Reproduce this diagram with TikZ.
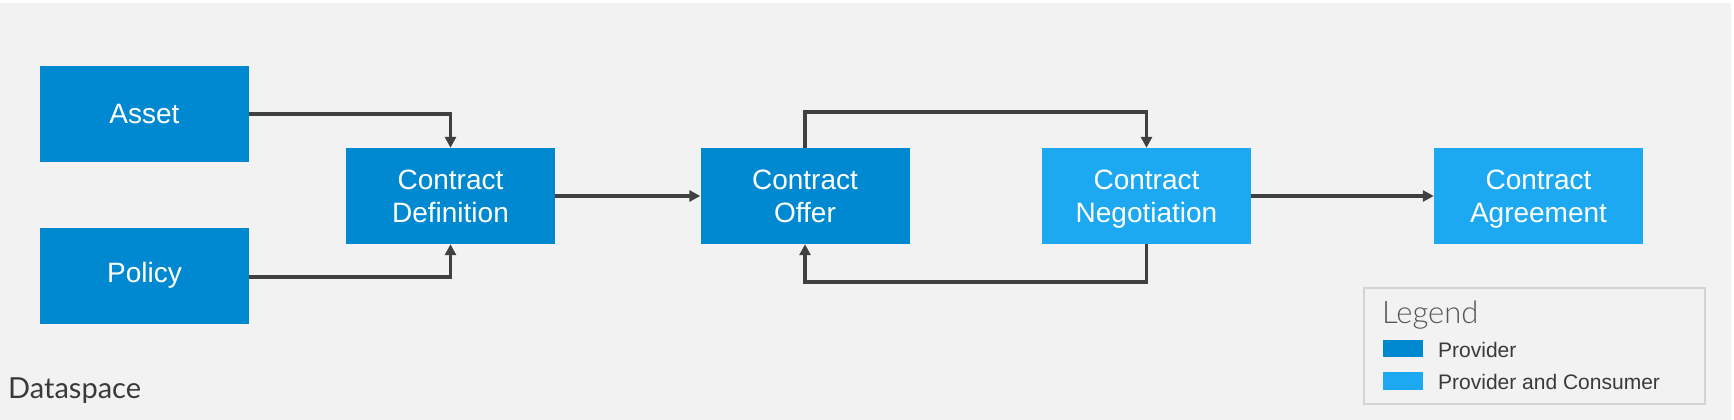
\documentclass[tikz,border=0pt]{standalone}
\usepackage{fontspec}
\setmainfont{Liberation Sans}
\newfontfamily\latofont{Lato}
\newfontfamily\latolight{Lato Light}
\usetikzlibrary{arrows.meta}
\newcommand\nodescend[1]{\raisebox{0pt}[\height][0pt]{#1}}
\definecolor{bgc}{HTML}{F2F2F2}
\definecolor{prov}{HTML}{0089D1}
\definecolor{provcons}{HTML}{1DA9F2}
\definecolor{arrc}{HTML}{404040}
\definecolor{txtc}{HTML}{3A3A3A}
\definecolor{legc}{HTML}{D4D4D4}
\tikzset{
  box/.style={fill=prov, minimum width=209pt, minimum height=96pt, inner sep=0pt,
    text=white, align=center, font=\fontsize{28}{33}\selectfont},
  boxlight/.style={box, fill=provcons},
  conn/.style={draw=arrc, line width=3.5pt, -{Triangle[length=11pt,width=11pt]}},
  legtxt/.style={anchor=base west, inner sep=0pt, text=txtc, font=\fontsize{21}{24}\selectfont},
}
\begin{document}
\begin{tikzpicture}[x=1pt,y=-1pt]
\useasboundingbox (0,0) rectangle (1734,420);
\fill[white] (0,0) rectangle (1734,420);
\fill[bgc] (0,3) rectangle (1731,420);

\node[box] (asset) at (144.5,114) {Asset};
\node[box] (policy) at (144.5,275.5) {Policy};
\node[box] (cdef) at (450.5,196) {Contract\\Definition};
\node[box] (offer) at (805,196) {Contract\\Offer};
\node[boxlight] (neg) at (1146.5,196) {Contract\\\nodescend{Negotiation}};
\node[boxlight] (agree) at (1538.5,196) {Contract\\\nodescend{Agreement}};

\draw[conn] (asset.east) -| (cdef.north);
\draw[conn] (policy.east |- 0,277) -| (cdef.south);
\draw[conn] (cdef.east) -- (offer.west);
\coordinate (toploop) at (0,112);
\coordinate (botloop) at (0,282);
\draw[conn] (offer.north) -- (offer.north |- toploop) -| (neg.north);
\draw[conn] (neg.south) -- (neg.south |- botloop) -| (offer.south);
\draw[conn] (neg.east) -- (agree.west);

\node[draw=legc, line width=1.5pt, minimum width=341pt, minimum height=116pt, inner sep=0pt] (legend) at (1534.5,346) {};
\node[anchor=base west, inner sep=0pt, text=txtc!85, font=\latolight\fontsize{31}{34}\selectfont] (legtitle) at (1382,323) {Legend};
\node[fill=prov, minimum width=40pt, minimum height=17pt, inner sep=0pt, anchor=north west] (sw1) at (1383,340) {};
\node[fill=provcons, minimum width=40pt, minimum height=18pt, inner sep=0pt, anchor=north west] (sw2) at (1383,372) {};
\node[legtxt] (l1) at (1438,357) {Provider};
\node[legtxt] (l2) at (1438,389) {Provider and Consumer};

\node[anchor=base west, inner sep=0pt, text=txtc, font=\latofont\fontsize{29}{33}\selectfont] (ds) at (8,398) {Dataspace};
\end{tikzpicture}
\end{document}
